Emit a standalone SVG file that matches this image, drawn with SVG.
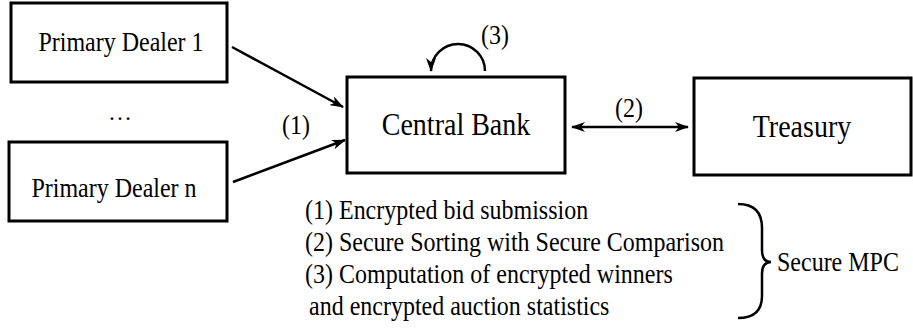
<svg xmlns="http://www.w3.org/2000/svg" width="913" height="331" viewBox="0 0 913 331">
  <defs>
    <style>
      .box { fill: #ffffff; stroke: #000000; stroke-width: 3; }
      .t { font-family: "Liberation Serif", "Times New Roman", serif; fill: #000000; }
      .n { font-size: 24px; }
      .big { font-size: 28px; }
      .edge { fill: none; stroke: #000000; stroke-width: 2.5; }
    </style>
    <marker id="ah" markerUnits="userSpaceOnUse" markerWidth="14" markerHeight="10" refX="13" refY="5" orient="auto">
      <path d="M0,0 L14,5 L0,10 L4,5 Z" fill="#000000"/>
    </marker>
    <marker id="ahs" markerUnits="userSpaceOnUse" markerWidth="14" markerHeight="10" refX="1" refY="5" orient="auto">
      <path d="M14,0 L0,5 L14,10 L10,5 Z" fill="#000000"/>
    </marker>
  </defs>
  <rect width="913" height="331" fill="#ffffff"/>

  <g id="pd1">
    <rect class="box" x="11" y="3" width="216" height="79"/>
    <text class="t n" transform="translate(121,51) scale(1,1.1)" text-anchor="middle">Primary Dealer 1</text>
  </g>
  <g id="dots">
    <text class="t n" x="120" y="120" text-anchor="middle">…</text>
  </g>
  <g id="pdn">
    <rect class="box" x="9" y="142" width="218" height="79"/>
    <text class="t n" transform="translate(114,197) scale(1,1.1)" text-anchor="middle">Primary Dealer n</text>
  </g>
  <g id="centralbank">
    <rect class="box" x="347" y="77" width="218" height="96"/>
    <text class="t big" transform="translate(456,135) scale(1,1.12)" text-anchor="middle">Central Bank</text>
  </g>
  <g id="treasury">
    <rect class="box" x="694" y="78" width="217" height="97"/>
    <text class="t big" transform="translate(802,137) scale(1,1.12)" text-anchor="middle">Treasury</text>
  </g>

  <g id="connectors">
    <line class="edge" x1="232" y1="47" x2="343" y2="107" marker-end="url(#ah)"/>
    <line class="edge" x1="233" y1="182" x2="345" y2="140" marker-end="url(#ah)"/>
    <line class="edge" x1="572" y1="127" x2="688" y2="127" marker-start="url(#ahs)" marker-end="url(#ah)"/>
    <path class="edge" d="M485,71 A27,27 0 0 0 431,71" marker-end="url(#ah)"/>
    <text class="t n" transform="translate(296,134) scale(1,1.1)" text-anchor="middle">(1)</text>
    <text class="t n" transform="translate(629,117) scale(1,1.1)" text-anchor="middle">(2)</text>
    <text class="t n" transform="translate(495,44) scale(1,1.1)" text-anchor="middle">(3)</text>
  </g>

  <g id="legend">
    <text class="t n" transform="translate(305,219) scale(1,1.1)">(1) Encrypted bid submission</text>
    <text class="t n" transform="translate(305,251) scale(1,1.1)">(2) Secure Sorting with Secure Comparison</text>
    <text class="t n" transform="translate(305,283) scale(1,1.1)">(3) Computation of encrypted winners</text>
    <text class="t n" transform="translate(309,315) scale(1,1.1)">and encrypted auction statistics</text>
    <path class="edge" d="M738,204 Q762,204 762,228 L762,250 Q762,262 771,262 Q762,262 762,274 L762,296 Q762,318 738,318"/>
    <text class="t n" transform="translate(777,271) scale(1,1.1)">Secure MPC</text>
  </g>
</svg>
